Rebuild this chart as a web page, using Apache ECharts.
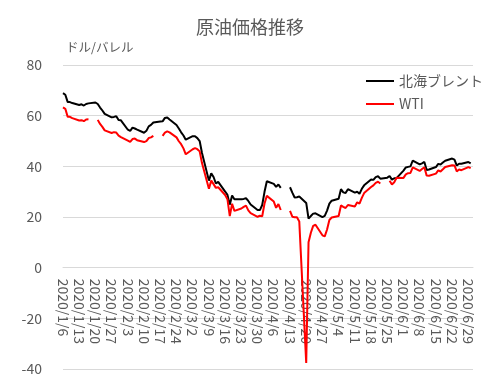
<!DOCTYPE html>
<html>
<head>
<meta charset="utf-8">
<script src="https://cdn.jsdelivr.net/npm/echarts@6/dist/echarts.min.js"></script>
<style>
html,body{margin:0;padding:0;background:#fff;}
#c{width:500px;height:392px;}
</style>
</head>
<body>
<div id="c"></div>
<script>
// Trading days (2020), holidays kept as empty values
const dates = [
 "1/6","1/7","1/8","1/9","1/10","1/13","1/14","1/15","1/16","1/17","1/20","1/21","1/22","1/23","1/24","1/27","1/28","1/29","1/30","1/31",
 "2/3","2/4","2/5","2/6","2/7","2/10","2/11","2/12","2/13","2/14","2/17","2/18","2/19","2/20","2/21","2/24","2/25","2/26","2/27","2/28",
 "3/2","3/3","3/4","3/5","3/6","3/9","3/10","3/11","3/12","3/13","3/16","3/17","3/18","3/19","3/20","3/23","3/24","3/25","3/26","3/27","3/30","3/31",
 "4/1","4/2","4/3","4/6","4/7","4/8","4/9","4/10","4/13","4/14","4/15","4/16","4/17","4/20","4/21","4/22","4/23","4/24","4/27","4/28","4/29","4/30",
 "5/1","5/4","5/5","5/6","5/7","5/8","5/11","5/12","5/13","5/14","5/15","5/18","5/19","5/20","5/21","5/22","5/25","5/26","5/27","5/28","5/29",
 "6/1","6/2","6/3","6/4","6/5","6/8","6/9","6/10","6/11","6/12","6/15","6/16","6/17","6/18","6/19","6/22","6/23","6/24","6/25","6/26","6/29","6/30"
];
const brent = [
 68.91,68.27,65.44,65.37,64.98,64.20,64.49,64.00,64.62,64.85,65.20,64.59,63.21,62.04,60.69,59.32,59.51,59.81,58.29,58.16,
 54.45,53.96,55.28,54.93,54.47,53.27,54.01,55.79,56.34,57.32,57.67,57.75,59.12,59.31,58.50,56.30,54.95,53.43,52.18,50.52,
 51.90,51.86,51.13,49.99,45.27,34.36,37.22,35.79,33.22,33.85,30.05,28.73,24.88,28.47,26.98,27.03,27.15,27.39,26.34,24.93,22.76,22.74,
 24.74,29.94,34.11,33.05,31.87,32.84,31.48,null,31.74,29.60,27.69,27.82,28.08,25.57,19.33,20.37,21.33,21.44,19.99,20.46,22.54,25.27,
 26.44,27.20,30.97,29.72,29.46,30.97,29.63,29.98,29.19,31.13,32.50,34.81,34.65,35.75,36.06,35.13,35.53,36.17,34.74,35.29,35.33,
 38.32,39.57,39.79,39.99,42.30,40.80,41.18,41.73,38.55,38.73,39.72,40.96,40.71,41.51,42.19,43.08,42.63,40.31,41.05,41.02,41.71,41.15
];
const wti = [
 63.27,62.70,59.61,59.56,59.04,58.08,58.23,57.81,58.52,58.54,null,58.34,56.74,55.59,54.19,53.14,53.48,53.33,52.14,51.56,
 50.11,49.61,50.75,50.95,50.32,49.57,49.94,51.17,51.42,52.05,null,52.05,53.29,53.78,53.38,51.43,49.90,48.73,47.09,44.76,
 46.75,47.18,46.78,45.90,41.28,31.13,34.36,32.98,31.50,31.73,28.70,26.95,20.37,25.22,22.43,23.36,24.01,24.49,22.60,21.51,20.09,20.48,
 20.31,25.32,28.34,26.08,23.63,25.09,22.76,null,22.41,20.11,19.87,19.87,18.27,-37.63,10.01,13.78,16.50,16.94,12.78,12.34,15.06,18.84,
 19.78,20.39,24.56,23.99,23.55,24.74,24.14,25.78,25.29,27.56,29.43,31.82,32.50,33.49,33.92,33.25,null,34.35,32.81,33.71,35.49,
 35.44,36.81,37.29,37.41,39.55,38.19,38.94,39.60,36.34,36.26,37.12,38.38,37.96,38.84,39.75,40.46,40.37,38.01,38.72,38.49,39.70,39.27
];
const tickLabels = [
 "2020/1/6","2020/1/13","2020/1/20","2020/1/27","2020/2/3","2020/2/10","2020/2/17","2020/2/24",
 "2020/3/2","2020/3/9","2020/3/16","2020/3/23","2020/3/30","2020/4/6","2020/4/13","2020/4/20",
 "2020/4/27","2020/5/4","2020/5/11","2020/5/18","2020/5/25","2020/6/1","2020/6/8","2020/6/15",
 "2020/6/22","2020/6/29"
];
const yTicks = [-40, -20, 0, 20, 40, 60, 80];

function dayOffset(md) {
  const p = md.split('/');
  const t = Date.UTC(2020, +p[0] - 1, +p[1]);
  return Math.round((t - Date.UTC(2020, 0, 6)) / 86400000);
}
const xs = dates.map(dayOffset);
const toData = arr => arr.map((v, i) => [xs[i], v === null ? '-' : v]);

const FONT = '"Noto Sans CJK JP", "Noto Sans", sans-serif';
const TXT = '#595959';

const GRID = {left: 63, right: 27, top: 65, bottom: 23};
const H = 392;
const yMin = yTicks[0], yMax = yTicks[yTicks.length - 1];
const plotH = H - GRID.top - GRID.bottom;
// move the date axis up to the zero line (Excel style axis crossing)
const zeroOffset = -plotH * (0 - yMin) / (yMax - yMin);

const chart = echarts.init(document.getElementById('c'), null, {renderer: 'canvas'});
chart.setOption({
  animation: false,
  backgroundColor: '#fff',
  title: {
    text: '原油価格推移',
    left: 'center',
    top: 13,
    textStyle: {color: TXT, fontSize: 18, fontWeight: 'normal', fontFamily: FONT}
  },
  graphic: [{
    type: 'text', left: 66, top: 41,
    style: {text: 'ドル/バレル', fill: TXT, fontSize: 12.5, fontFamily: FONT}
  }],
  legend: {
    orient: 'vertical',
    left: 361, top: 69,
    icon: 'rect',
    itemWidth: 28, itemHeight: 2, itemGap: 9,
    textStyle: {color: TXT, fontSize: 14, fontFamily: FONT},
    data: ['北海ブレント', 'WTI']
  },
  grid: Object.assign({containLabel: false, outerBoundsMode: 'none'}, GRID),
  xAxis: {
    type: 'value',
    min: 0, max: 177, interval: 7,
    offset: zeroOffset,
    axisLine: {show: true, onZero: false, lineStyle: {color: '#d9d9d9', width: 1}},
    axisTick: {show: false},
    splitLine: {show: false},
    axisLabel: {
      rotate: -90, margin: 11, color: TXT, fontSize: 14, fontFamily: FONT,
      showMaxLabel: false,
      formatter: v => (v % 7 === 0 && tickLabels[v / 7]) ? tickLabels[v / 7] : ''
    }
  },
  yAxis: {
    type: 'value',
    min: yMin, max: yMax, interval: 20,
    axisLine: {show: false, onZero: false},
    axisTick: {show: false},
    splitLine: {lineStyle: {color: '#d9d9d9', width: 1}},
    axisLabel: {color: TXT, fontSize: 14, fontFamily: FONT, margin: 21}
  },
  series: [
    {
      name: '北海ブレント', type: 'line', symbol: 'none', connectNulls: false,
      lineStyle: {color: '#000', width: 2}, itemStyle: {color: '#000'},
      data: toData(brent)
    },
    {
      name: 'WTI', type: 'line', symbol: 'none', connectNulls: false,
      lineStyle: {color: '#ff0000', width: 2}, itemStyle: {color: '#ff0000'},
      data: toData(wti)
    }
  ]
});
</script>
</body>
</html>
